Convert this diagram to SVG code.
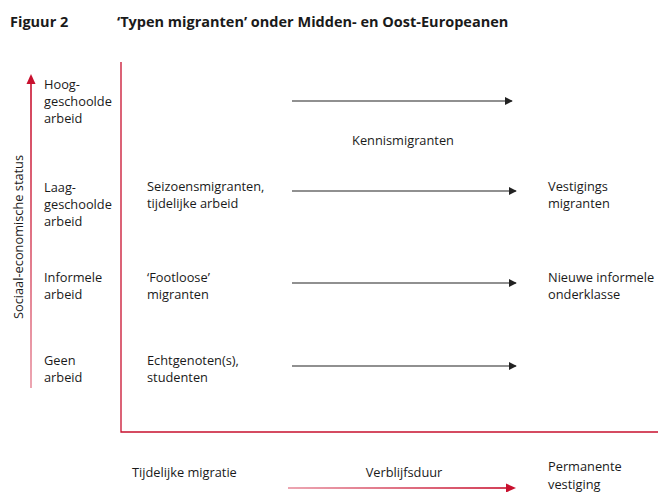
<svg xmlns="http://www.w3.org/2000/svg" width="658" height="492" viewBox="0 0 658 492">
  <style>
    text { font-family: "Open Sans", "Noto Sans", "Liberation Sans", sans-serif; font-size: 12.8px; fill: #1a1a1a; }
    .title { font-weight: bold; font-size: 14.5px; }
    .frame { stroke: #c8102e; stroke-width: 1.3; fill: none; }
    .flow { stroke: #222; stroke-width: 1.2; fill: none; marker-end: url(#blackHead); }
  </style>
  <defs>
    <marker id="blackHead" viewBox="0 0 10 10" refX="9" refY="5" markerWidth="8" markerHeight="8" markerUnits="userSpaceOnUse" orient="auto">
      <path d="M0,0 L10,5 L0,10 z" fill="#222"/>
    </marker>
    <linearGradient id="upGrad" x1="0" y1="1" x2="0" y2="0">
      <stop offset="0" stop-color="#e8909f"/>
      <stop offset="1" stop-color="#c8102e"/>
    </linearGradient>
    <linearGradient id="rightGrad" x1="0" y1="0" x2="1" y2="0">
      <stop offset="0" stop-color="#e8909f"/>
      <stop offset="1" stop-color="#c8102e"/>
    </linearGradient>
  </defs>

  <!-- heading -->
  <g id="heading">
    <text class="title" x="10" y="27">Figuur 2</text>
    <text class="title" x="117" y="27">‘Typen migranten’ onder Midden- en Oost-Europeanen</text>
  </g>

  <!-- status axis -->
  <g id="status-axis">
    <rect x="30.2" y="82" width="1.6" height="306" fill="url(#upGrad)"/>
    <path d="M26.5,84 L31,74 L35.5,84 z" fill="#c8102e"/>
    <text x="0" y="0" transform="translate(23,237) rotate(-90)" text-anchor="middle">Sociaal-economische status</text>
  </g>

  <!-- frame -->
  <g id="frame">
    <path class="frame" d="M121,62 V432 H658"/>
  </g>

  <!-- row labels -->
  <g id="row-hoog">
    <text x="44" y="89">Hoog-</text>
    <text x="44" y="106">geschoolde</text>
    <text x="44" y="123">arbeid</text>
  </g>
  <g id="row-laag">
    <text x="44" y="192">Laag-</text>
    <text x="44" y="209">geschoolde</text>
    <text x="44" y="226">arbeid</text>
  </g>
  <g id="row-informeel">
    <text x="44" y="282">Informele</text>
    <text x="44" y="299">arbeid</text>
  </g>
  <g id="row-geen">
    <text x="44" y="365">Geen</text>
    <text x="44" y="382">arbeid</text>
  </g>

  <!-- migrant types -->
  <g id="seizoen">
    <text x="147" y="191">Seizoensmigranten,</text>
    <text x="147" y="208">tijdelijke arbeid</text>
  </g>
  <g id="footloose">
    <text x="147" y="282">‘Footloose’</text>
    <text x="147" y="299">migranten</text>
  </g>
  <g id="echtgenoten">
    <text x="147" y="365">Echtgenoten(s),</text>
    <text x="147" y="382">studenten</text>
  </g>
  <g id="kennis">
    <text x="403" y="145" text-anchor="middle">Kennismigranten</text>
  </g>
  <g id="vestiging">
    <text x="548" y="191">Vestigings</text>
    <text x="548" y="208">migranten</text>
  </g>
  <g id="onderklasse">
    <text x="548" y="282">Nieuwe informele</text>
    <text x="548" y="299">onderklasse</text>
  </g>

  <!-- connectors -->
  <g id="connectors">
    <line class="flow" x1="292" y1="101" x2="512" y2="101"/>
    <line class="flow" x1="292" y1="191" x2="516" y2="191"/>
    <line class="flow" x1="292" y1="283" x2="516" y2="283"/>
    <line class="flow" x1="292" y1="366" x2="516" y2="366"/>
  </g>

  <!-- duration axis -->
  <g id="duration-axis">
    <text x="132" y="477">Tijdelijke migratie</text>
    <text x="404" y="477" text-anchor="middle">Verblijfsduur</text>
    <rect x="288" y="487.2" width="220" height="1.6" fill="url(#rightGrad)"/>
    <path d="M506,483.5 L516,488 L506,492.5 z" fill="#c8102e"/>
    <text x="548" y="471">Permanente</text>
    <text x="548" y="489">vestiging</text>
  </g>
</svg>
